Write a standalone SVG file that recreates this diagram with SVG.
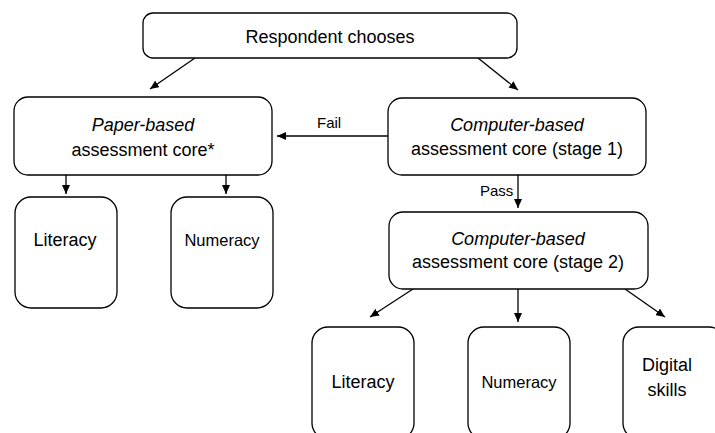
<svg xmlns="http://www.w3.org/2000/svg" width="715" height="433" viewBox="0 0 715 433">
<defs>
<marker id="ah" markerUnits="userSpaceOnUse" markerWidth="10" markerHeight="8" refX="9" refY="4" orient="auto">
<path d="M0,0 L9,4 L0,8 Z" fill="#000"/>
</marker>
<style>
.box{fill:#fff;stroke:#000;stroke-width:1.3}
.t{font-family:"Liberation Sans",Arial,sans-serif;font-size:18px;fill:#000;text-anchor:middle}
.i{font-style:italic}
.s{font-size:16.5px}
.lbl{font-family:"Liberation Sans",Arial,sans-serif;font-size:15px;fill:#000}
.c{stroke:#000;stroke-width:1.3;fill:none;marker-end:url(#ah)}
</style>
</defs>
<rect width="715" height="433" fill="#fff"/>
<g id="connectors">
<line class="c" x1="195" y1="58" x2="150" y2="89"/>
<line class="c" x1="478" y1="58" x2="518" y2="90"/>
<line class="c" x1="388" y1="136" x2="277" y2="136"/>
<line class="c" x1="66" y1="175" x2="66" y2="194"/>
<line class="c" x1="226" y1="175" x2="226" y2="194"/>
<line class="c" x1="518" y1="175" x2="518" y2="208"/>
<line class="c" x1="413" y1="289" x2="370" y2="317"/>
<line class="c" x1="518" y1="289" x2="518" y2="322"/>
<line class="c" x1="625" y1="289" x2="665" y2="317"/>
<text class="lbl" x="317" y="128">Fail</text>
<text class="lbl" x="480" y="196">Pass</text>
</g>
<g id="respondent">
<rect class="box" x="143" y="13" width="374" height="45" rx="10"/>
<text class="t" x="330" y="43">Respondent chooses</text>
</g>
<g id="paper">
<rect class="box" x="14" y="97" width="258" height="78" rx="14"/>
<text class="t i" x="143" y="131">Paper-based</text>
<text class="t" x="143" y="156">assessment core*</text>
</g>
<g id="cb1">
<rect class="box" x="388" y="98" width="258" height="77" rx="14"/>
<text class="t i" x="517" y="131">Computer-based</text>
<text class="t" x="517" y="155">assessment core (stage 1)</text>
</g>
<g id="p-literacy">
<rect class="box" x="15" y="197" width="102" height="111" rx="16"/>
<text class="t" x="65" y="246">Literacy</text>
</g>
<g id="p-numeracy">
<rect class="box" x="171" y="197" width="102" height="111" rx="16"/>
<text class="t s" x="222" y="246">Numeracy</text>
</g>
<g id="cb2">
<rect class="box" x="389" y="212" width="259" height="77" rx="14"/>
<text class="t i" x="518" y="245">Computer-based</text>
<text class="t" x="518" y="268">assessment core (stage 2)</text>
</g>
<g id="c-literacy">
<rect class="box" x="312" y="327" width="102" height="112" rx="16"/>
<text class="t" x="363" y="388">Literacy</text>
</g>
<g id="c-numeracy">
<rect class="box" x="468" y="327" width="102" height="112" rx="16"/>
<text class="t s" x="519" y="388">Numeracy</text>
</g>
<g id="c-digital">
<rect class="box" x="623" y="327" width="102" height="112" rx="16"/>
<text class="t" x="667" y="371">Digital</text>
<text class="t" x="667" y="396">skills</text>
</g>
</svg>
